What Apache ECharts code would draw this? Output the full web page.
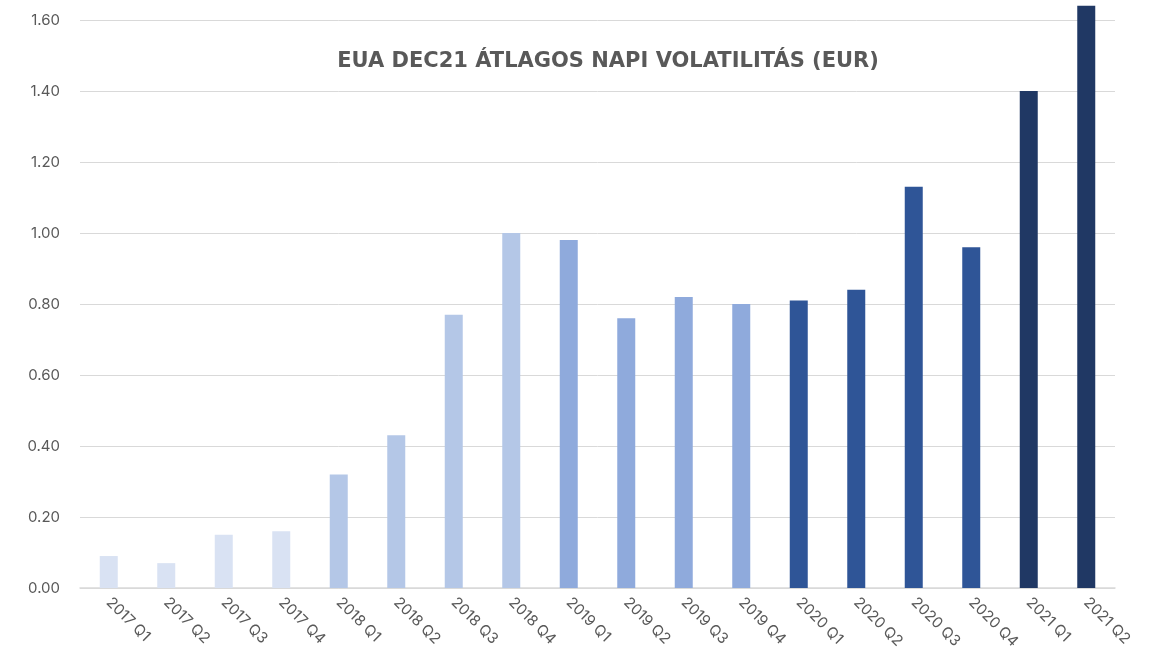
<!DOCTYPE html>
<html>
<head>
<meta charset="utf-8">
<script src="https://cdn.jsdelivr.net/npm/echarts@6/dist/echarts.min.js"></script>
<style>html,body{margin:0;padding:0;background:#fff;}#c{width:1158px;height:665px;}</style>
</head>
<body>
<div id="c"></div>
<script>
const categories = ["2017 Q1","2017 Q2","2017 Q3","2017 Q4","2018 Q1","2018 Q2","2018 Q3","2018 Q4","2019 Q1","2019 Q2","2019 Q3","2019 Q4","2020 Q1","2020 Q2","2020 Q3","2020 Q4","2021 Q1","2021 Q2"];
const values = [0.09,0.07,0.15,0.16,0.32,0.43,0.77,1.00,0.98,0.76,0.82,0.80,0.81,0.84,1.13,0.96,1.40,1.64];
const yearColors = {"2017":"#D9E2F3","2018":"#B4C7E7","2019":"#8FAADC","2020":"#2F5597","2021":"#203864"};
const titleText = "EUA DEC21 ÁTLAGOS NAPI VOLATILITÁS (EUR)";

const chart = echarts.init(document.getElementById('c'));
chart.setOption({
  animation:false,
  backgroundColor:'#fff',
  title:{text:titleText,left:603,top:46,textAlign:'center',
    textStyle:{fontFamily:'DejaVu Sans',fontWeight:'bold',fontSize:21,color:'#595959'}},
  grid:{left:80,right:43,top:-51,bottom:77,outerBoundsMode:'none',containLabel:false},
  xAxis:{type:'category',data:categories,
    axisLine:{lineStyle:{color:'#D9D9D9',width:1.5}},
    axisTick:{show:false},
    axisLabel:{rotate:-45,color:'#595959',fontFamily:'Inter',fontSize:15,margin:12,interval:0}},
  yAxis:{type:'value',min:0,max:1.8,interval:0.2,
    axisLine:{show:false},axisTick:{show:false},
    splitLine:{lineStyle:{color:'#D9D9D9',width:1}},
    axisLabel:{color:'#595959',fontFamily:'Inter',fontSize:15,margin:20,
      formatter:v=>v.toFixed(2)}},
  series:[{type:'bar',barWidth:18,
    data:values.map((v,i)=>({value:v,itemStyle:{color:yearColors[categories[i].slice(0,4)]}}))}]
});
</script>
</body>
</html>
